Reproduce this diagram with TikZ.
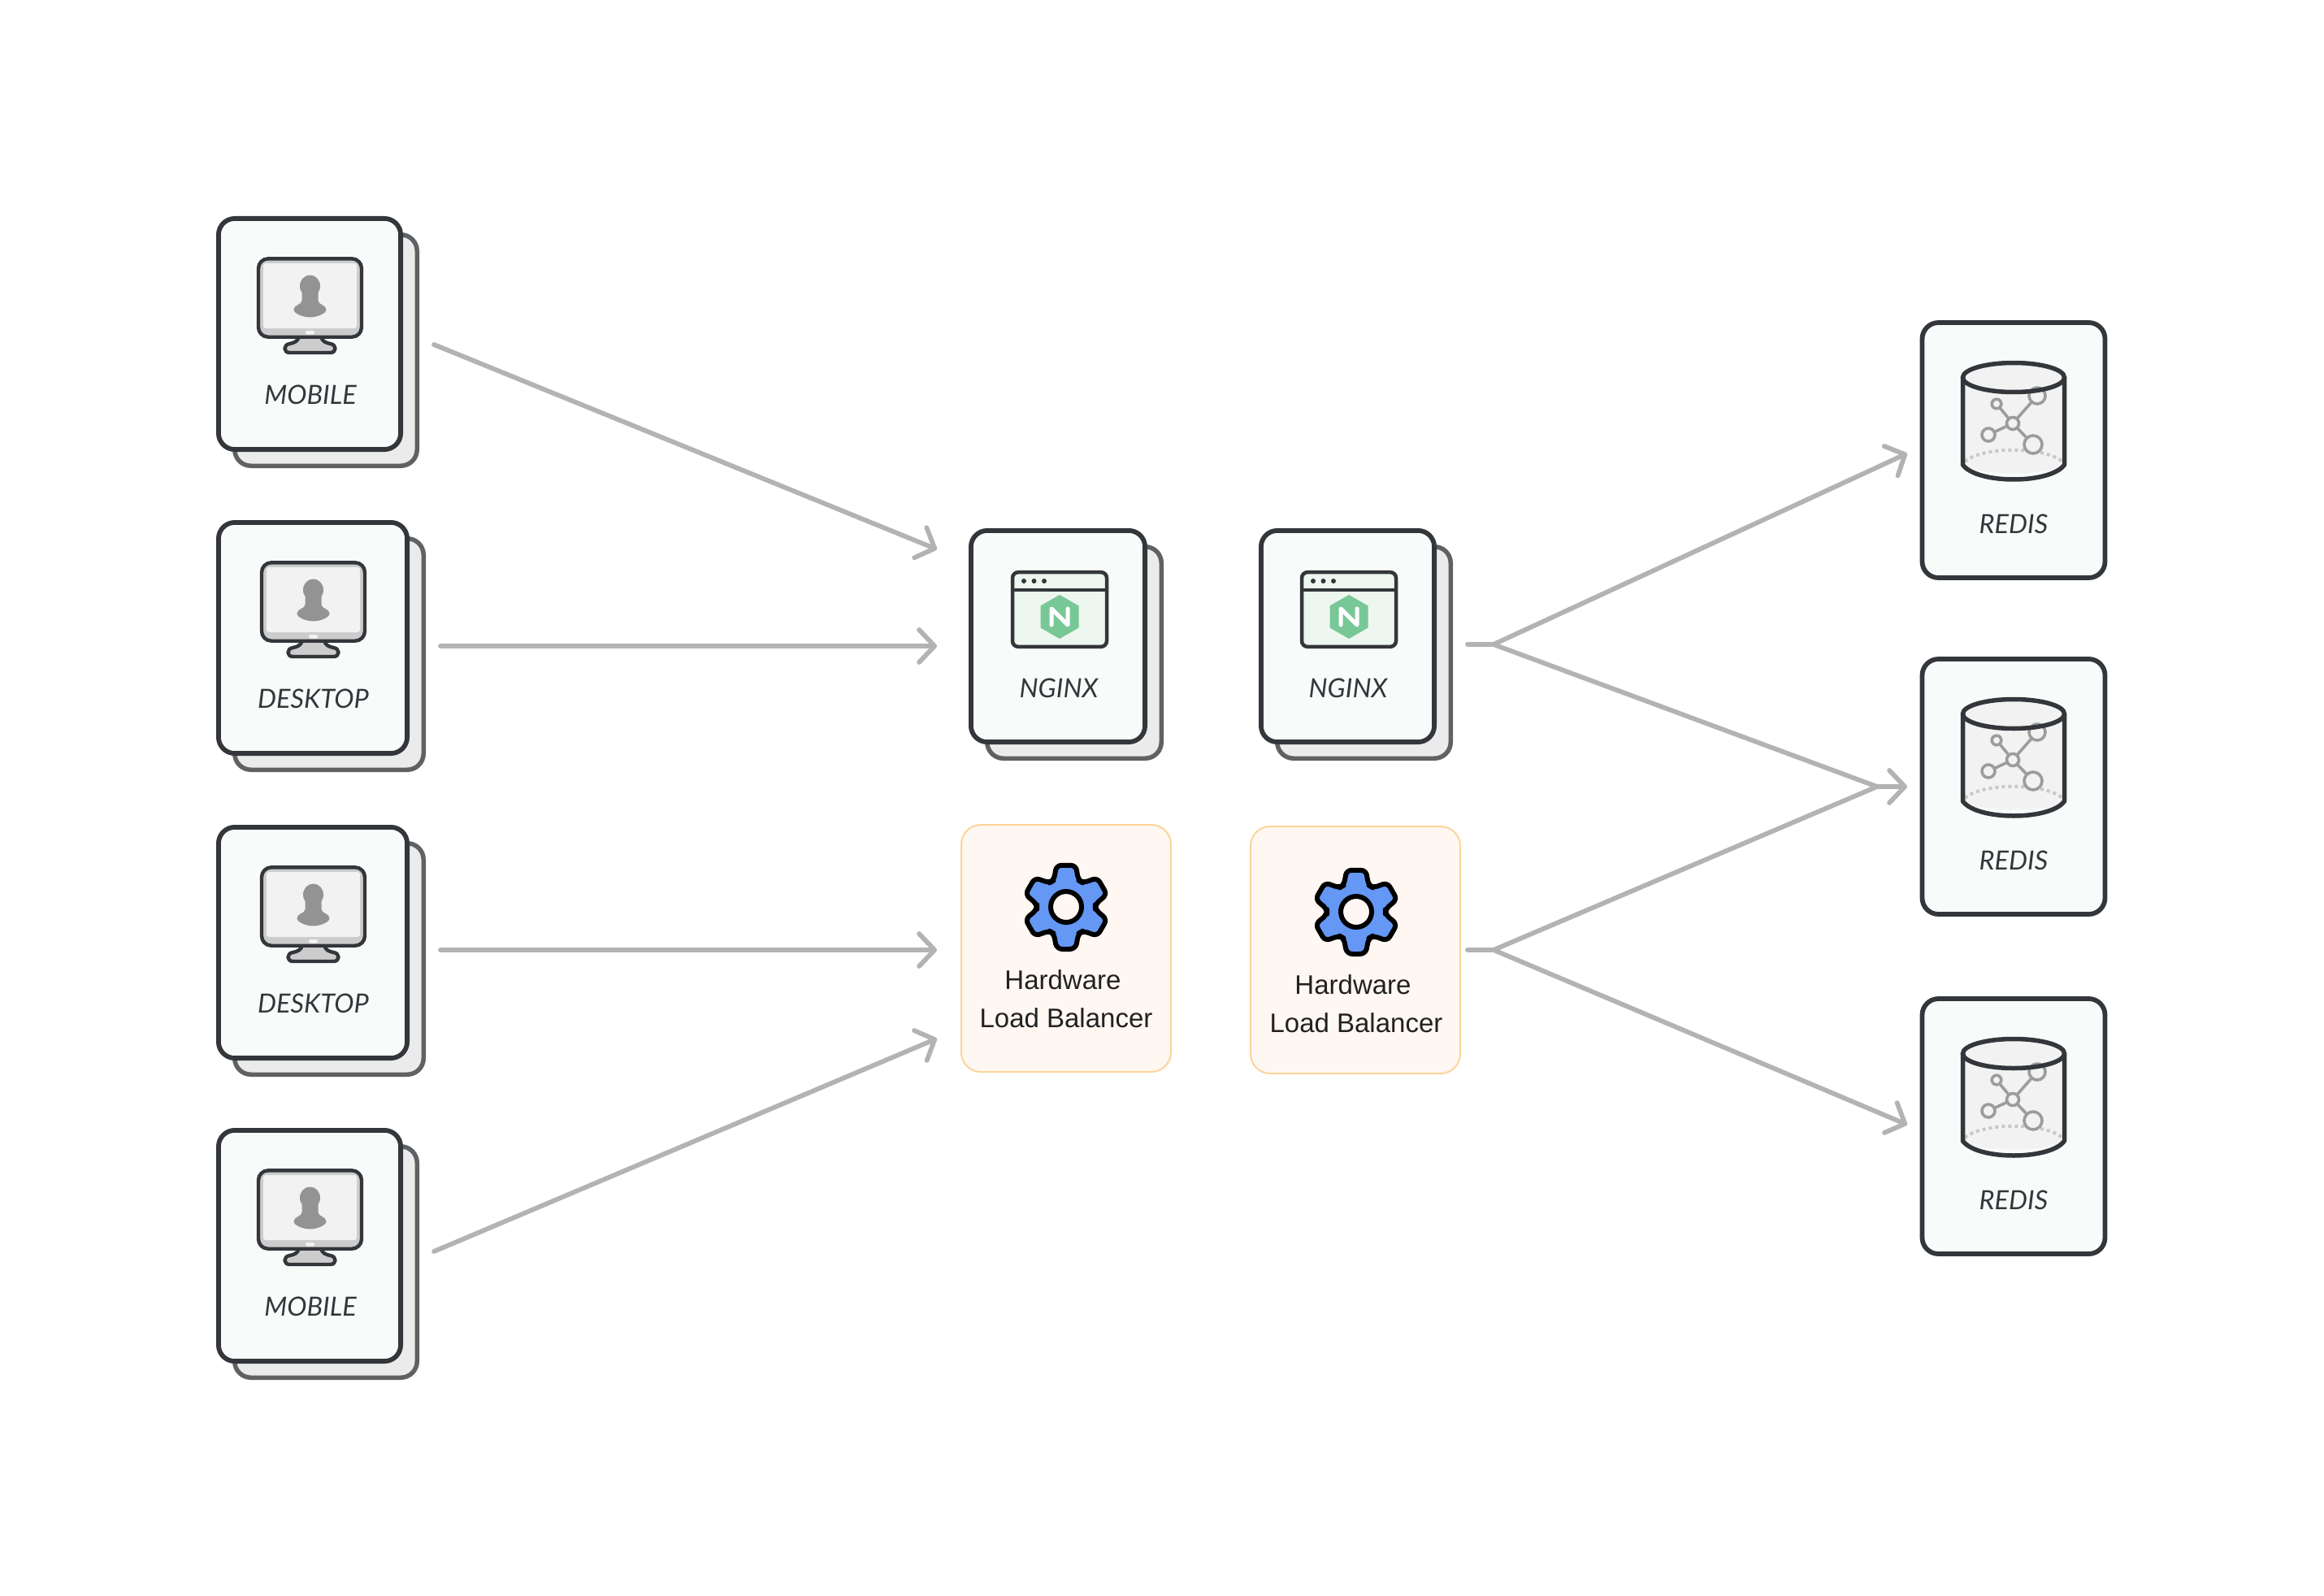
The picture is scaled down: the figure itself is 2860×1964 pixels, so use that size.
\documentclass[tikz,border=0pt]{standalone}
\usepackage{fontspec}
\setmainfont{Liberation Sans}
\newfontfamily\cardfont{Lato}
\usetikzlibrary{arrows.meta}
\definecolor{ink}{HTML}{33363A}
\definecolor{backink}{HTML}{606163}
\definecolor{backfill}{HTML}{EBEBEB}
\definecolor{cardfill}{HTML}{F9FBFA}
\definecolor{flowc}{HTML}{B3B3B3}
\definecolor{hwfill}{HTML}{FFF7F1}
\definecolor{hwline}{HTML}{FDD49B}
\definecolor{gearblue}{HTML}{6598F5}
\definecolor{nggreen}{HTML}{78C797}
\definecolor{ngpale}{HTML}{EDF7EF}
\definecolor{igrey}{HTML}{CCCCCD}
\definecolor{ipale}{HTML}{F2F2F2}
\definecolor{idark}{HTML}{939393}
\definecolor{netgrey}{HTML}{9C9C9C}
\definecolor{dotgrey}{HTML}{C8C8C8}
\tikzset{
  x=1pt,y=-1pt,
  frontcard/.style={draw=ink,fill=cardfill,line width=5.8pt,rounded corners=20pt,inner sep=0pt,outer sep=0pt,anchor=north west},
  backcard/.style={draw=backink,fill=backfill,line width=5.5pt,rounded corners=20pt,inner sep=0pt,outer sep=0pt,anchor=north west},
  hwcard/.style={draw=hwline,fill=hwfill,line width=2pt,rounded corners=24pt,inner sep=0pt,outer sep=0pt,anchor=north west},
  cardlabel/.style={text=ink,inner sep=0pt,font=\cardfont\itshape\fontsize{32.5}{38}\selectfont},
  hwlabel/.style={text=black!87,inner sep=0pt,font=\fontsize{33}{38}\selectfont},
  flow/.style={draw=flowc,line width=5.8pt,line cap=round,line join=round},
  flowarrow/.style={flow,-{Straight Barb[length=19pt,width=40pt,round]}},
  monitor/.pic={
    \path[fill=igrey,draw=ink,line width=4.4pt,line join=round]
      (-14,98) .. controls (-14,104) and (-20,106) .. (-25,107)
      .. controls (-33,108) and (-33,118) .. (-25,118) -- (25,118)
      .. controls (33,118) and (33,108) .. (25,107)
      .. controls (20,106) and (14,104) .. (14,98) -- cycle;
    \path[fill=igrey,draw=ink,line width=4.4pt,rounded corners=12pt] (-63.5,2.3) rectangle (63.5,98.7);
    \path[fill=ipale,rounded corners=3pt] (-57.5,8) rectangle (57.5,88);
    \path[fill=ipale,rounded corners=2pt] (-5.5,91) rectangle (5.5,95.5);
    \path[fill=idark] (0,36) ellipse [x radius=12.5pt,y radius=13.5pt];
    \path[fill=idark] (-10,42) -- (-10,54) .. controls (-10,59) and (-20,59) .. (-20,65)
      .. controls (-20,70) and (-8,74.5) .. (0,74.5)
      .. controls (8,74.5) and (20,70) .. (20,65)
      .. controls (20,59) and (10,59) .. (10,54) -- (10,42) -- cycle;
  },
  ngicon/.pic={
    \path[fill=ngpale,draw=ink,line width=4.5pt,rounded corners=7pt] (-58,2.2) rectangle (58,93.8);
    \path[draw=ink,line width=4.5pt] (-58,24) -- (58,24);
    \foreach \dx in {-44,-31.5,-19} \path[fill=ink] (\dx,13) circle (3pt);
    \path[fill=nggreen] (0,30) -- (23.5,43.5) -- (23.5,70.5) -- (0,84) -- (-23.5,70.5) -- (-23.5,43.5) -- cycle;
    \path[draw=white,line width=5pt,line cap=round,line join=round] (-10,67) -- (-10,47) -- (10,67) -- (10,47);
  },
  gearicon/.pic={
    \path[fill=gearblue,draw=black,line width=6pt,rounded corners=6pt,line join=round]
      (90:52.5) \foreach \a in {90,150,...,390} { -- (\a+13:52.5) -- (\a+25:36) -- (\a+35:36) -- (\a+47:52.5) } -- cycle;
    \path[fill=hwfill,draw=black,line width=6pt] (0,0) circle (19pt);
  },
  redisicon/.pic={
    \path[fill=ipale] (-62.5,70.5) -- (-62.5,178) .. controls (-45,192) and (45,192) .. (62.5,178) -- (62.5,70.5) -- cycle;
    \path[fill=ipale] (0,70.5) ellipse [x radius=62.5pt,y radius=18pt];
    \path[draw=dotgrey,line width=4pt,dash pattern=on 4pt off 4pt] (-60,174) .. controls (-38,155) and (38,155) .. (60,174);
    \path[draw=netgrey,line width=3.6pt] (-1,127) -- (-21,103) (-1,127) -- (-31,141) (-1,127) -- (24,153) (-1,127) -- (29,93);
    \path[draw=netgrey,fill=ipale,line width=3.6pt]
      (-1,127) circle (7.5pt) (-21,103) circle (5.8pt) (-31,141) circle (8pt) (24,153) circle (11pt) (29,93) circle (10pt);
    \path[draw=ink,line width=5.5pt] (0,70.5) ellipse [x radius=62.5pt,y radius=18pt];
    \path[draw=ink,line width=5.5pt,line join=round] (-62.5,70.5) -- (-62.5,178) .. controls (-45,202) and (45,202) .. (62.5,178) -- (62.5,70.5);
  },
}
\newcommand{\stackedcard}[5]{%
  \node[backcard,minimum width=#4pt-5.5pt,minimum height=#5pt-5.5pt] (#1back) at (#2+22.75,#3+22.75) {};
  \node[frontcard,minimum width=#4pt-5.8pt,minimum height=#5pt-5.8pt] (#1) at (#2+2.9,#3+2.9) {};
}
\begin{document}
\begin{tikzpicture}
\useasboundingbox[fill=white] (0,0) rectangle (2860,1964);

% clients
\stackedcard{cm1}{266}{266}{230}{290}
\pic at (381.5,316) {monitor};
\node[cardlabel] (cm1label) at (382,486) {MOBILE};

\stackedcard{cd1}{266}{640}{238}{290}
\pic at (385.5,690) {monitor};
\node[cardlabel] (cd1label) at (385.5,860) {DESKTOP};

\stackedcard{cd2}{266}{1015}{238}{290}
\pic at (385.5,1065) {monitor};
\node[cardlabel] (cd2label) at (385.5,1235) {DESKTOP};

\stackedcard{cm2}{266}{1388}{230}{290}
\pic at (381.5,1438) {monitor};
\node[cardlabel] (cm2label) at (382,1608) {MOBILE};

% nginx
\stackedcard{ng1}{1192}{650}{220}{266}
\pic at (1304,702) {ngicon};
\node[cardlabel] (ng1label) at (1303,847) {NGINX};

\stackedcard{ng2}{1549}{650}{219}{266}
\pic at (1660,702) {ngicon};
\node[cardlabel] (ng2label) at (1659,847) {NGINX};

% hardware balancers
\node[hwcard,minimum width=258pt,minimum height=304pt] (hw1) at (1183,1015) {};
\pic at (1312,1116) {gearicon};
\node[hwlabel] (hw1a) at (1308,1206) {Hardware};
\node[hwlabel] (hw1b) at (1312,1253) {Load Balancer};

\node[hwcard,minimum width=258pt,minimum height=304pt] (hw2) at (1539,1017) {};
\pic at (1669,1122) {gearicon};
\node[hwlabel] (hw2a) at (1665,1212) {Hardware};
\node[hwlabel] (hw2b) at (1669,1259) {Load Balancer};

% redis
\node[frontcard,minimum width=225pt,minimum height=314pt] (rd1) at (2365.5,397) {};
\pic at (2478,394) {redisicon};
\node[cardlabel] (rd1label) at (2478,644.5) {REDIS};

\node[frontcard,minimum width=225pt,minimum height=314pt] (rd2) at (2365.5,811) {};
\pic at (2478,808) {redisicon};
\node[cardlabel] (rd2label) at (2478,1058.5) {REDIS};

\node[frontcard,minimum width=225pt,minimum height=314pt] (rd3) at (2365.5,1229) {};
\pic at (2478,1226) {redisicon};
\node[cardlabel] (rd3label) at (2478,1476.5) {REDIS};

% connector ends
\coordinate (cm1out) at (534,424);
\coordinate (cd1out) at (542,795);
\coordinate (cd2out) at (542,1169);
\coordinate (cm2out) at (534,1540);
\coordinate (ng1in) at (1153,676);
\coordinate (ng1inb) at (1153,795);
\coordinate (hw1in) at (1153,1169);
\coordinate (hw1inb) at (1153,1278);
\coordinate (ng2out) at (1806,793);
\coordinate (hw2out) at (1806,1169);
\coordinate (jtop) at (1838,793);
\coordinate (jbot) at (1838,1169);
\coordinate (jmid) at (2310,968);
\coordinate (rd1in) at (2347,558);
\coordinate (rd2in) at (2347,968);
\coordinate (rd3in) at (2347,1384);

\draw[flowarrow] (cm1out) -- (ng1in);
\draw[flowarrow] (cd1out) -- (ng1inb);
\draw[flowarrow] (cd2out) -- (hw1in);
\draw[flowarrow] (cm2out) -- (hw1inb);
\draw[flow] (ng2out) -- (jtop);
\draw[flow] (hw2out) -- (jbot);
\draw[flowarrow] (jtop) -- (rd1in);
\draw[flow] (jtop) -- (jmid);
\draw[flow] (jbot) -- (jmid);
\draw[flowarrow] (jmid) -- (rd2in);
\draw[flowarrow] (jbot) -- (rd3in);
\end{tikzpicture}
\end{document}
